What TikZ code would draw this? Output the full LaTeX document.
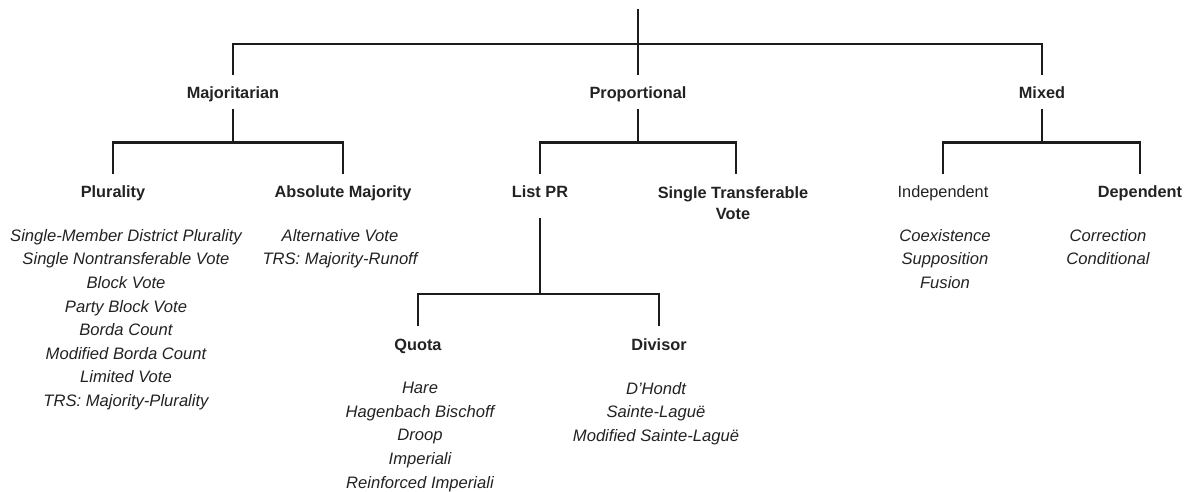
\documentclass[tikz,border=0pt]{standalone}
\usepackage{fontspec}
\setmainfont{Liberation Sans}
\usepackage{tikz}
\usepackage{xcolor}
\definecolor{inkline}{HTML}{1C1C1C}
\definecolor{inktext}{HTML}{222222}

\tikzset{
  branch/.style={draw=inkline, line width=2.4pt},
  kind/.style={font=\fontsize{16.3}{21}\selectfont\bfseries, text=inktext,
    anchor=base, text height=18pt, text depth=3.5pt, inner xsep=2pt, inner ysep=6pt},
  plainkind/.style={kind, font=\fontsize{16.3}{21}\selectfont},
  twoline/.style={font=\fontsize{16.3}{21}\selectfont\bfseries, text=inktext,
    align=center, inner sep=0pt, anchor=north},
  items/.style={font=\fontsize{16.6}{23.6}\selectfont\itshape, text=inktext,
    align=center, inner sep=0pt, anchor=north},
}

\begin{document}
\begin{tikzpicture}[x=1pt, y=-1pt]
  \useasboundingbox (0,0) rectangle (1187,492);

  % top level
  \coordinate (root) at (638,9);
  \coordinate (top) at (638,44);
  \node[kind] (maj) at (233,99) {Majoritarian};
  \node[kind] (prop) at (638,99) {Proportional};
  \node[kind] (mix) at (1042,99) {Mixed};

  \draw[branch] (root) -- (prop.north);
  \draw[branch] (maj.north) |- (top) -| (mix.north);

  % second level
  \node[kind] (plu) at (113,198) {Plurality};
  \node[kind] (abs) at (343,198) {Absolute Majority};
  \node[kind] (lpr) at (540,198) {List PR};
  \node[twoline] (stv) at (733,186) {Single Transferable\\Vote};
  \node[plainkind] (ind) at (943,198) {Independent};
  \node[kind] (dep) at (1140,198) {Dependent};

  \draw[branch] (maj.south) -- ++(0,34) coordinate (m1);
  \draw[branch] (plu.north) |- (m1) -| (abs.north);
  \draw[branch] (prop.south) -- ++(0,34) coordinate (p1);
  \draw[branch] (lpr.north) |- (p1) -| ([xshift=3pt, yshift=12pt]stv.north);
  \draw[branch] (mix.south) -- ++(0,34) coordinate (x1);
  \draw[branch] (ind.north) |- (x1) -| (dep.north);

  % list PR
  \node[kind] (quo) at (418,350) {Quota};
  \node[kind] (div) at (659,350) {Divisor};

  \draw[branch] ([yshift=-10pt]lpr.south) -- ++(0,76) coordinate (l1);
  \draw[branch] (quo.north) |- (l1) -| (div.north);

  % systems
  \node[items] (plulist) at (126,229) {Single-Member District Plurality\\
    Single Nontransferable Vote\\Block Vote\\Party Block Vote\\Borda Count\\
    Modified Borda Count\\Limited Vote\\TRS: Majority-Plurality};
  \node[items] (abslist) at (340,229) {Alternative Vote\\TRS: Majority-Runoff};
  \node[items] (quolist) at (420,382) {Hare\\Hagenbach Bischoff\\Droop\\
    Imperiali\\Reinforced Imperiali};
  \node[items] (divlist) at (656,382) {D'Hondt\\Sainte-Laguë\\Modified Sainte-Laguë};
  \node[items] (indlist) at (945,229) {Coexistence\\Supposition\\Fusion};
  \node[items] (deplist) at (1108,229) {Correction\\Conditional};
\end{tikzpicture}
\end{document}
